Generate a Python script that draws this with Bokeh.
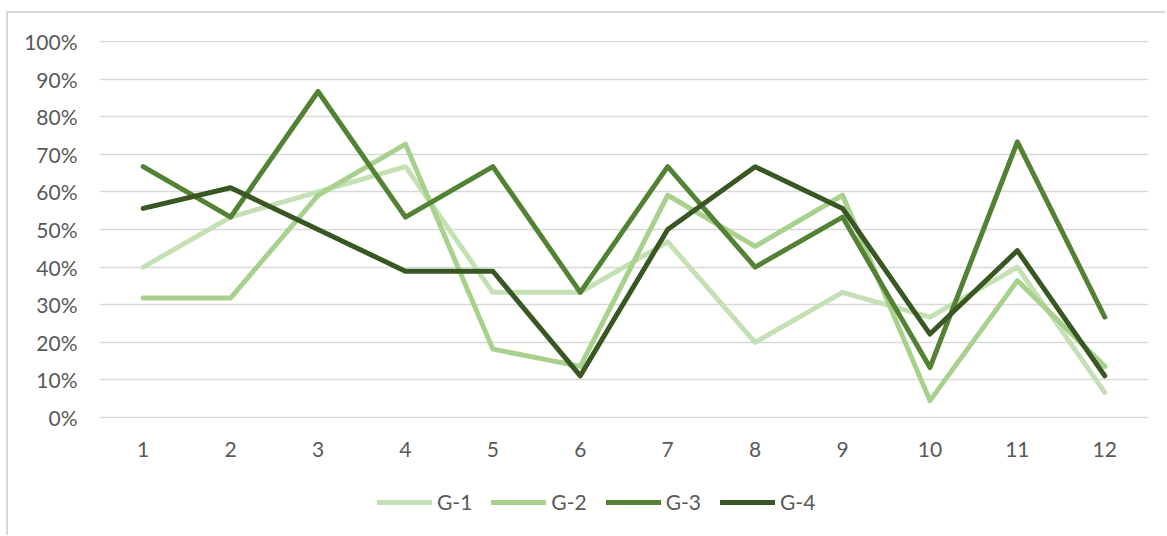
from bokeh.plotting import figure
from bokeh.layouts import column
from bokeh.models import Range1d, FixedTicker, PrintfTickFormatter, Legend, LegendItem
from bokeh.embed import file_html
from bokeh.resources import INLINE

categories = [1, 2, 3, 4, 5, 6, 7, 8, 9, 10, 11, 12]
g1 = [40.0, 53.3, 60.0, 66.7, 33.3, 33.3, 46.7, 20.0, 33.3, 26.7, 40.0, 6.7]
g2 = [31.8, 31.8, 59.1, 72.7, 18.2, 13.6, 59.1, 45.5, 59.1, 4.5, 36.4, 13.6]
g3 = [66.7, 53.3, 86.7, 53.3, 66.7, 33.3, 66.7, 40.0, 53.3, 13.3, 73.3, 26.7]
g4 = [55.6, 61.1, 50.0, 38.9, 38.9, 11.1, 50.0, 66.7, 55.6, 22.2, 44.4, 11.1]
series_names = ["G-1", "G-2", "G-3", "G-4"]
series_values = [g1, g2, g3, g4]
colors = ["#c5e0b4", "#a9d18e", "#548235", "#385723"]
y_ticks = list(range(0, 101, 10))

FONT = "Lato"
TXT = "#595959"
LW = 5

p = figure(frame_width=1049, frame_height=378, output_backend="svg", toolbar_location=None,
           x_range=Range1d(0.5, 12.5), y_range=Range1d(-0.25, 100.25),
           min_border_left=91, min_border_right=17, min_border_top=27, min_border_bottom=50)
p.outline_line_color = None
p.background_fill_color = "white"
p.border_fill_color = "white"

p.xgrid.grid_line_color = None
p.ygrid.grid_line_color = "#d9d9d9"
p.ygrid.grid_line_width = 1.3
p.ygrid.ticker = FixedTicker(ticks=y_ticks)

p.yaxis.ticker = FixedTicker(ticks=y_ticks)
p.yaxis.formatter = PrintfTickFormatter(format="%d%%")
p.xaxis.ticker = FixedTicker(ticks=categories)
for ax in (p.xaxis, p.yaxis):
    ax.axis_line_color = None
    ax.major_tick_line_color = None
    ax.minor_tick_line_color = None
    ax.major_tick_out = 0
    ax.major_tick_in = 0
    ax.major_label_text_font = FONT
    ax.major_label_text_font_size = "21px"
    ax.major_label_text_color = TXT
p.yaxis.major_label_standoff = 22
p.xaxis.major_label_standoff = 23

for name, vals, c in zip(series_names, series_values, colors):
    p.line(categories, vals, line_color=c, line_width=LW,
           line_join="round", line_cap="round")

# legend strip below the chart (its lines are kept out of view; only the legend shows)
lg = figure(frame_width=1157, frame_height=67, output_backend="svg", toolbar_location=None,
            x_range=Range1d(1000, 1001), y_range=Range1d(1000, 1001),
            min_border_left=0, min_border_right=0, min_border_top=0, min_border_bottom=0)
lg.axis.visible = False
lg.grid.visible = False
lg.outline_line_color = None
lg.background_fill_color = "white"
lg.border_fill_color = "white"

items = []
for name, vals, c in zip(series_names, series_values, colors):
    r = lg.line(categories, vals, line_color=c, line_width=LW, line_join="round", line_cap="round")
    items.append(LegendItem(label=name, renderers=[r]))

legend = Legend(items=items, orientation="horizontal", location=(369, 21),
                glyph_width=55, glyph_height=20, label_standoff=5, spacing=19,
                padding=0, margin=0, border_line_color=None,
                background_fill_alpha=0,
                label_text_font=FONT, label_text_font_size="21px",
                label_text_color=TXT)
lg.add_layout(legend, "center")

layout = column(p, lg, spacing=0,
                styles={"border-top": "2px solid #d9d9d9", "border-left": "2px solid #d9d9d9",
                        "margin-top": "11px", "margin-left": "6px"})

open("out.html", "w").write(file_html(layout, INLINE))
